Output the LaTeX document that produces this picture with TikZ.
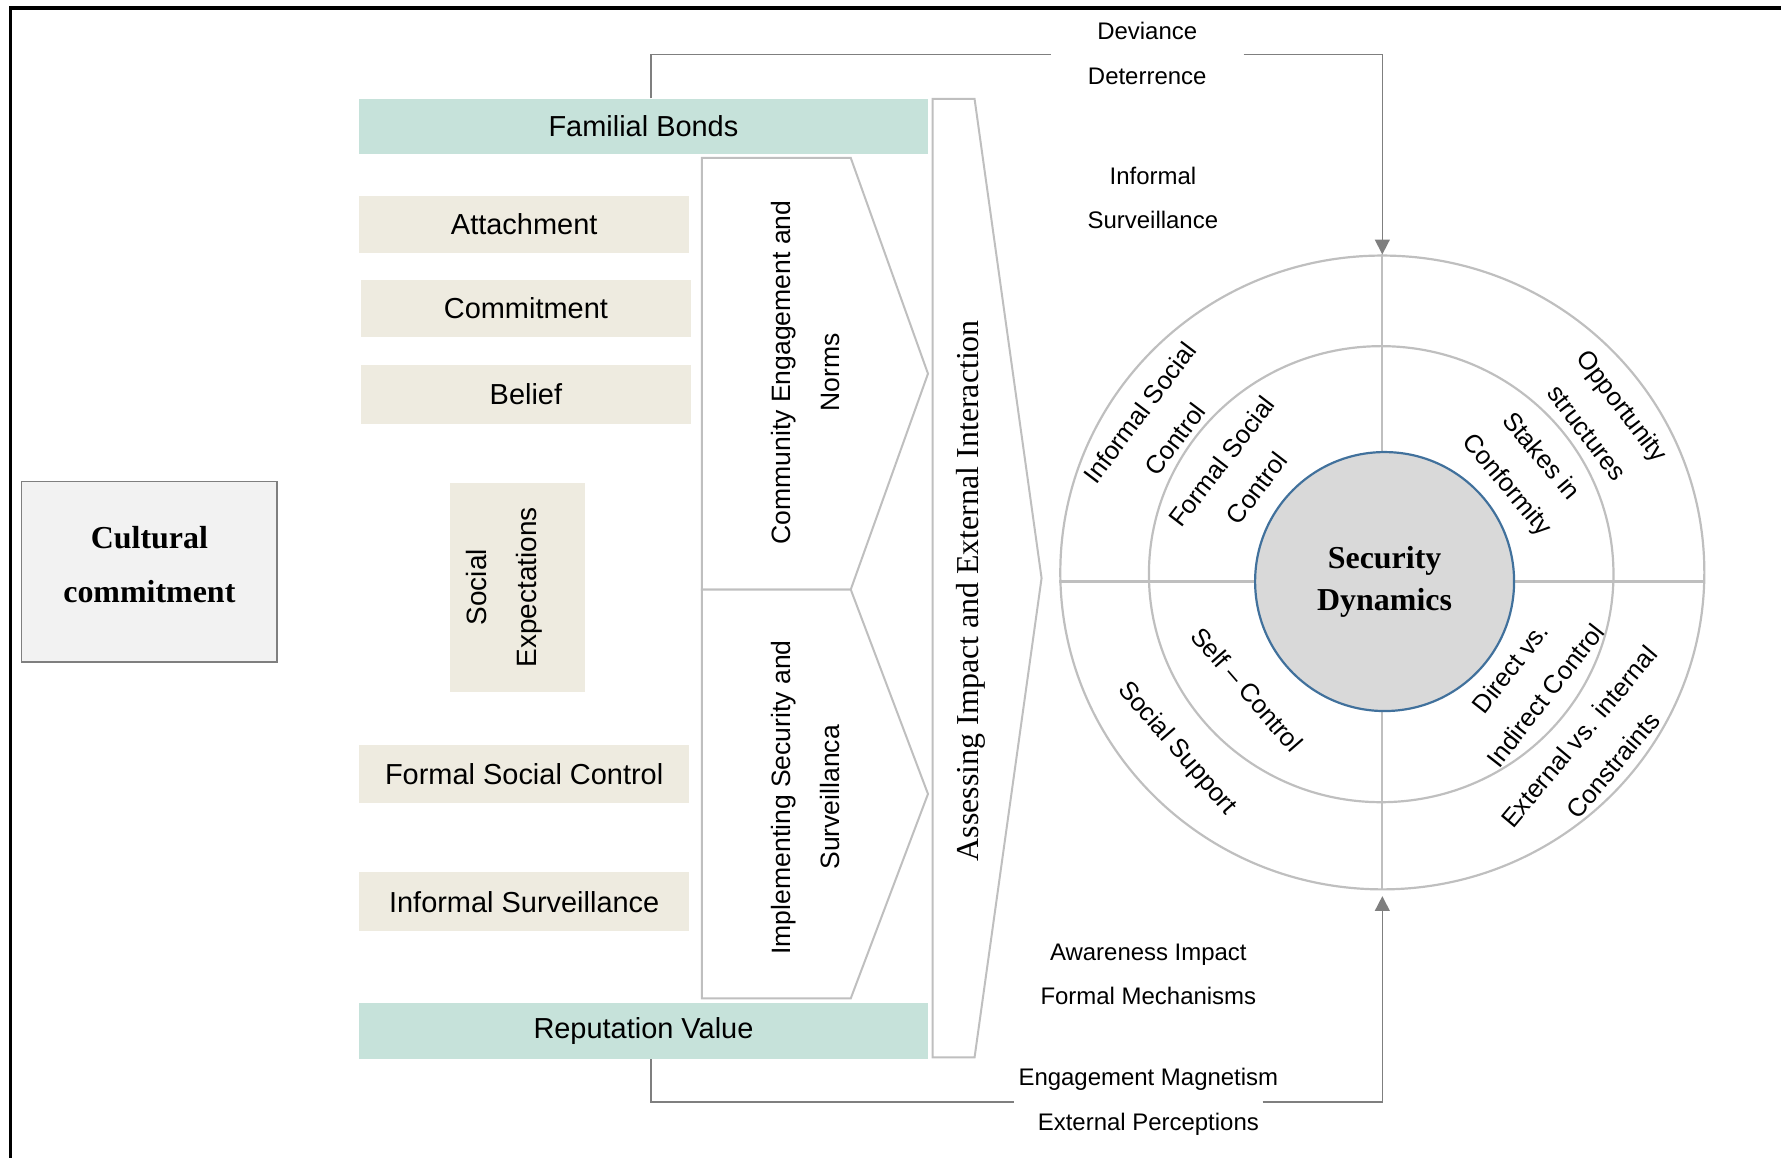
\documentclass[tikz,border=0pt]{standalone}
\usepackage{fontspec}
\setmainfont{Liberation Serif}
\setsansfont{Liberation Sans}
\usetikzlibrary{arrows.meta,shapes.geometric}

\definecolor{bondteal}{HTML}{C6E2DA}
\definecolor{itembeige}{HTML}{EEEBE0}
\definecolor{ringgray}{HTML}{BFBFBF}
\definecolor{arrowgray}{HTML}{7F7F7F}
\definecolor{corefill}{HTML}{D9D9D9}
\definecolor{coreblue}{HTML}{41719C}
\definecolor{cultfill}{HTML}{F2F2F2}

\tikzset{
	bondbox/.style={fill=bondteal, inner sep=0pt, minimum width=100.2mm, minimum height=9.8mm,
		font=\sffamily\fontsize{14.5}{17}\selectfont},
	itembox/.style={fill=itembeige, inner sep=0pt, minimum width=58.2mm, minimum height=10mm,
		font=\sffamily\fontsize{14.5}{17}\selectfont},
	ringlabel/.style={font=\sffamily\fontsize{12.8}{22.2}\selectfont, align=center, inner sep=0pt},
	flowlabel/.style={font=\sffamily\fontsize{12}{22.2}\selectfont, align=center, inner sep=0pt},
	stagelabel/.style={font=\sffamily\fontsize{13.3}{24.5}\selectfont, align=center, rotate=90, inner sep=0pt},
	chevron/.style={draw=ringgray, line width=1pt, fill=white},
	ring/.style={draw=ringgray, line width=1.1pt, inner sep=0pt},
	link/.style={draw=arrowgray, line width=0.8pt},
	feedback/.style={link, -{Triangle[length=2.6mm,width=2.6mm]}},
}

\begin{document}
\begin{tikzpicture}[x=0.2mm, y=-0.2mm]
	\useasboundingbox (0,0) rectangle (1568,1019);
	\clip (0,0) rectangle (1568,1019);

	% frame
	\draw[line width=1.7pt] (9,1040) -- (9,7) -- (1590,7);

	% left column
	\node[draw=arrowgray, line width=0.8pt, fill=cultfill, minimum width=45mm, minimum height=31.8mm] (cult) at (131.5,503.5) {};
	\node[font=\bfseries\fontsize{16}{27.2}\selectfont, align=center] (cultlabel) at (131.5,497) {Cultural\\commitment};

	\node[bondbox] (bonds) at (566.5,111.5) {Familial Bonds};
	\node[bondbox] (reput) at (566.5,907.5) {Reputation Value};

	\node[itembox] (attach) at (461.5,197.5) {Attachment};
	\node[itembox] (commit) at (463,271.5) {Commitment};
	\node[itembox, minimum height=10.4mm] (belief) at (463,347) {Belief};
	\node[itembox, minimum width=23.8mm, minimum height=36.8mm] (socexp) at (455.5,517) {};
	\node[rotate=90, align=center, inner sep=0pt, font=\sffamily\fontsize{14}{25.5}\selectfont] (socexplabel) at (444,517) {Social\\Expectations};
	\node[itembox, minimum height=10.2mm] (formal) at (461.5,681.5) {Formal Social Control};
	\node[itembox, minimum height=10.4mm] (inform) at (461.5,794) {Informal Surveillance};

	% stages
	\draw[chevron] (618,139) -- (749,139) -- (817,329) -- (749,519) -- (618,519) -- cycle;
	\draw[chevron] (618,519) -- (749,519) -- (817,699) -- (749,879) -- (618,879) -- cycle;
	\draw[chevron] (821,87) -- (858,87) -- (917,509) -- (858,931) -- (821,931) -- cycle;

	\node[stagelabel] (engage) at (709.5,328) {Community Engagement and\\Norms};
	\node[stagelabel] (secure) at (709.5,702) {Implementing Security and\\Surveillanca};
	\node[stagelabel, font=\fontsize{16}{19}\selectfont] (assess) at (855,520) {Assessing Impact and External Interaction};

	% rings
	\node[ring, ellipse, draw, minimum width=113.4mm, minimum height=111.6mm] (outer) at (1217,504) {};
	\node[ring, ellipse, draw, minimum width=81.8mm, minimum height=80.3mm] (middle) at (1216,505.5) {};
	\coordinate (hub) at (1219,512);
	\draw[ring] (outer.north) -- (outer.south);
	\draw[ring] (outer.west |- hub) -- (outer.east |- hub);
	\node[circle, draw=coreblue, line width=1.1pt, fill=corefill, minimum size=45.6mm, align=center,
		font=\bfseries\fontsize{16}{21}\selectfont] (core) at (hub) {Security\\Dynamics};

	\node[ringlabel, rotate=53] (infsoc) at (1019,375) {Informal Social\\Control};
	\node[ringlabel, rotate=52.5] (formsoc) at (1091,418) {Formal Social\\Control};
	\node[ringlabel, rotate=-52.5] (opport) at (1413,369) {Opportunity\\structures};
	\node[ringlabel, rotate=-50] (stakes) at (1341,415) {Stakes in\\Conformity};
	\node[ringlabel, rotate=-49] (selfctl) at (1098,607) {Self – Control};
	\node[ringlabel, rotate=-49] (support) at (1036,659) {Social Support};
	\node[ringlabel, rotate=52] (direct) at (1345,600) {Direct vs.\\Indirect Control};
	\node[ringlabel, rotate=50] (extint) at (1405,661) {External vs. internal\\Constraints};

	% feedback loops
	\coordinate (topbend) at (573,48);
	\coordinate (botbend) at (573,970);
	\node[flowlabel, minimum width=33.8mm] (deviance) at (1010,47) {Deviance\\Deterrence};
	\node[flowlabel] (magnet) at (1011,970) {Engagement Magnetism\\External Perceptions};
	\node[flowlabel] (watch) at (1015,174) {Informal\\Surveillance};
	\node[flowlabel] (aware) at (1011,858) {Awareness Impact\\Formal Mechanisms};

	\draw[link] (bonds.north -| topbend) -- (topbend) -- (deviance.west |- topbend);
	\draw[feedback] (deviance.east |- topbend) -| (outer.north);
	\draw[link] (reput.south -| botbend) -- (botbend) -- ([xshift=-0.8mm]magnet.west);
	\draw[feedback, shorten >=1mm] ([xshift=-2.8mm]magnet.east) -| (outer.south);
\end{tikzpicture}
\end{document}
